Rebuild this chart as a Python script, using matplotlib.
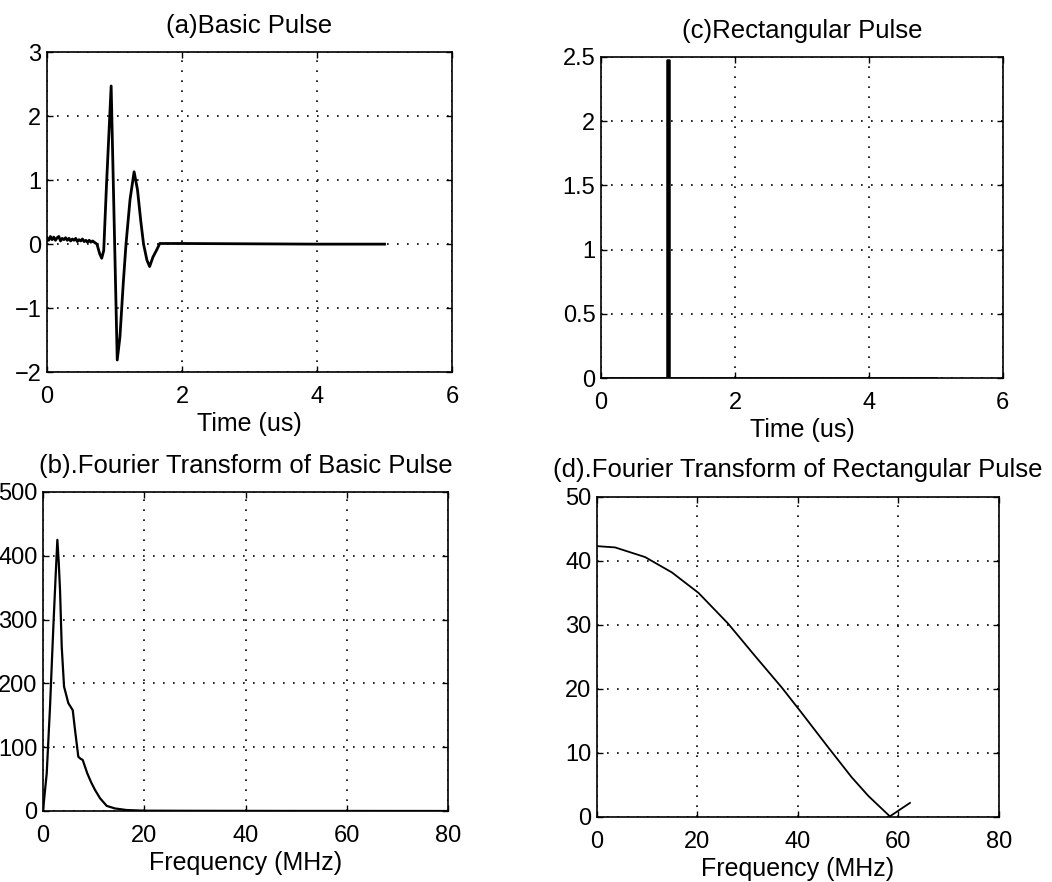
import matplotlib
matplotlib.use("Agg")
import matplotlib.pyplot as plt
from matplotlib.ticker import FuncFormatter

plt.rcParams['font.family'] = ['Liberation Sans', 'DejaVu Sans']

# (a) basic pulse
pulse_t = [0.00, 0.025, 0.05, 0.075, 0.10, 0.125, 0.15, 0.175, 0.20, 0.225,
           0.25, 0.275, 0.30, 0.325, 0.35, 0.375, 0.40, 0.425, 0.45, 0.475,
           0.50, 0.525, 0.55, 0.575, 0.60, 0.625, 0.65, 0.675, 0.70, 0.74,
           0.78, 0.81, 0.84, 0.88, 0.95, 1.04, 1.08, 1.13, 1.17, 1.23, 1.29,
           1.34, 1.39, 1.43, 1.48, 1.52, 1.57, 1.62, 1.67, 2.0, 3.0, 4.0, 5.0]
pulse_v = [0.10, 0.06, 0.12, 0.07, 0.11, 0.06, 0.10, 0.12, 0.05, 0.09,
           0.07, 0.10, 0.06, 0.09, 0.05, 0.08, 0.06, 0.09, 0.04, 0.07,
           0.05, 0.08, 0.04, 0.06, 0.03, 0.06, 0.03, 0.05, 0.03, 0.00,
           -0.15, -0.22, -0.10, 0.90, 2.47, -1.81, -1.45, -0.60, 0.00, 0.70, 1.13,
           0.85, 0.35, 0.00, -0.25, -0.35, -0.20, -0.10, 0.01, 0.01, 0.005, 0.0, 0.0]

# (b) spectrum of basic pulse
ft_freq = [0, 0.3, 0.73, 1.38, 2.04, 2.5, 2.83, 3.1, 3.36, 3.69, 4.15, 5.0,
           5.87, 6.32, 6.97, 7.4, 7.84, 8.74, 9.5, 10.27, 11.26, 12.58, 14.2,
           16.5, 20, 30, 40, 50, 60, 70, 80]
ft_mag = [0, 25, 59, 163, 289, 370, 425, 390, 346, 258, 195, 169,
          158, 127, 85, 82, 80, 59, 45, 33, 20, 8, 4,
          1.5, 0.5, 0.3, 0.2, 0.1, 0.1, 0.05, 0]

# (c) rectangular pulse
rect_t = [0, 0.99, 0.99, 1.01, 1.01, 5.0]
rect_v = [0, 0, 2.48, 2.48, 0, 0]

# (d) spectrum of rectangular pulse
rect_ft_freq = [0, 3.6, 9.55, 14.9, 20.2, 26.1, 31.4, 36.8, 40.7, 46.0,
                50.7, 54.0, 58.3, 62.3]
rect_ft_mag = [42.3, 42.1, 40.6, 38.2, 35.0, 30.2, 25.2, 20.2, 16.3, 10.9,
               6.2, 3.3, 0.1, 2.2]


def fmt(v, p):
    return ('%g' % v).replace('-', '\u2212')


def style(ax, title, xlabel, xticks, yticks, xlim, ylim):
    ax.set_xlim(xlim)
    ax.set_ylim(ylim)
    ax.set_xticks(xticks)
    ax.set_yticks(yticks)
    ax.yaxis.set_major_formatter(FuncFormatter(fmt))
    ax.grid(True, color='black', linestyle=(0, (1, 5)), linewidth=1.2)
    ax.tick_params(direction='in', top=True, right=True, length=4,
                   labelsize=17, width=1)
    ax.tick_params(axis='x', pad=10)
    ax.tick_params(axis='y', pad=4)
    for s in ax.spines.values():
        s.set_linewidth(1.2)
    ax.set_title(title, fontsize=18.5, pad=14)
    ax.set_xlabel(xlabel, fontsize=18, labelpad=3)


fig = plt.figure(figsize=(10.52, 8.82), dpi=100)

ax1 = fig.add_axes([0.0447, 0.578, 0.385, 0.363])
ax1.plot(pulse_t, pulse_v, color='black', linewidth=2.0)
style(ax1, '(a)Basic Pulse', 'Time (us)', [0, 2, 4, 6], [-2, -1, 0, 1, 2, 3], (0, 6), (-2, 3))

ax2 = fig.add_axes([0.0409, 0.0805, 0.385, 0.3617])
ax2.plot(ft_freq, ft_mag, color='black', linewidth=1.6)
style(ax2, '(b).Fourier Transform of Basic Pulse', 'Frequency (MHz)',
      [0, 20, 40, 60, 80], [0, 100, 200, 300, 400, 500], (0, 80), (0, 500))

ax3 = fig.add_axes([0.5713, 0.5714, 0.382, 0.364])
ax3.plot(rect_t, rect_v, color='black', linewidth=1.8)
style(ax3, '(c)Rectangular Pulse', 'Time (us)', [0, 2, 4, 6],
      [0, 0.5, 1, 1.5, 2, 2.5], (0, 6), (0, 2.5))

ax4 = fig.add_axes([0.5675, 0.0737, 0.382, 0.363])
ax4.plot(rect_ft_freq, rect_ft_mag, color='black', linewidth=1.3)
style(ax4, '(d).Fourier Transform of Rectangular Pulse', 'Frequency (MHz)',
      [0, 20, 40, 60, 80], [0, 10, 20, 30, 40, 50], (0, 80), (0, 50))

fig.savefig('out.png', dpi=100)
